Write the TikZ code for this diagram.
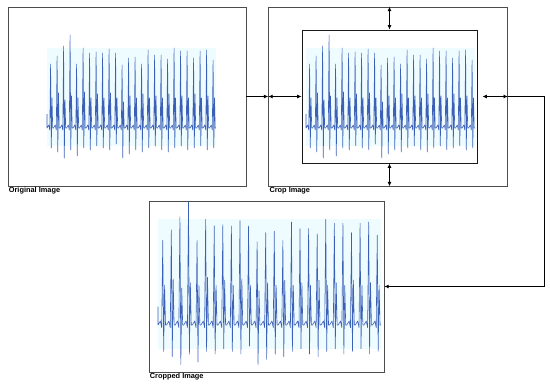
\documentclass[tikz,border=0pt]{standalone}
\usepackage{fontspec}
\setmainfont{Liberation Sans}
\usetikzlibrary{arrows.meta, positioning, calc}
\definecolor{ecgblue}{RGB}{60,96,184}
\definecolor{ecghalo}{RGB}{238,252,255}
\tikzset{
  frame/.style={draw=black!70, rectangle, line width=0.9pt, inner sep=0pt},
  cropwin/.style={draw=black!90, rectangle, line width=1.3pt, inner sep=0pt},
  lbl/.style={font=\bfseries\fontsize{10.5}{12}\selectfont, inner sep=1.5pt, anchor=north west},
  arrow/.style={-{Latex[length=2.2mm,width=2mm]}, line width=1.2pt, draw=black},
  dblarrow/.style={{Latex[length=2.2mm,width=2mm]}-{Latex[length=2.2mm,width=2mm]}, line width=1.2pt, draw=black},
  trace/.style={draw=ecgblue, line width=0.85pt, line join=round}
}
% one ecg strip, baseline at (0,0), 26 beats
\newcommand{\ecgtrace}{%
  \fill[ecghalo] (0,-80) rectangle (169,18);
  \draw[trace] (0,-14) -- (0,0)
    \foreach \h/\d/\s in {64/20/30, 72/24/35, 82/30/28, 93/22/32, 64/28/30, 80/20/36,
      75/22/30, 76/18/34, 75/20/30, 79/22/35, 75/16/30, 63/30/26, 70/26/32, 71/22/30,
      64/24/34, 78/20/30, 73/18/32, 73/22/30, 69/24/34, 80/20/30, 77/18/32, 77/22/30,
      70/20/34, 77/18/30, 78/22/32, 68/20/30} {
      -- ++(1.8,-3) -- ++(1.0,5) -- ++(0.8,-\h-2) -- ++(0.7,\h+\d)
      -- ++(0.7,-\d-\s) -- ++(0.7,\s) -- ++(0.8,0)
    };
}

\begin{document}
\begin{tikzpicture}[x=0.05cm, y=-0.05cm]
\useasboundingbox (0,0) rectangle (550,388);

\node[frame, minimum width=11.9cm, minimum height=8.95cm] (orig) at (127,96.5) {};
\node[frame, minimum width=11.95cm, minimum height=8.95cm, right=1.1cm of orig] (crop) {};
\node[cropwin, minimum width=8.75cm, minimum height=6.65cm] (win) at (389.5,96.5) {};
\node[frame, minimum width=11.75cm, minimum height=8.55cm] (cropped) at (266.5,286.5) {};

\begin{scope}[shift={(47,128)}]
  \ecgtrace
\end{scope}
\begin{scope}[shift={(306,128)}]
  \ecgtrace
\end{scope}
\begin{scope}[shift={(158,325)}, scale=1.32]
  \ecgtrace
\end{scope}

\node[lbl] (origlbl) at (orig.south west) {Original Image};
\node[lbl] (croplbl) at (crop.south west) {Crop Image};
\node[lbl] (croppedlbl) at (cropped.south west) {Cropped Image};

\draw[arrow] (orig) -- (crop);
\draw[dblarrow] (crop.west) -- (win.west);
\draw[dblarrow] (win.north) -- (win.north |- crop.north);
\draw[dblarrow] (win.south) -- (win.south |- crop.south);
\draw[dblarrow, shorten <=0.25cm] (win.east) -- (crop.east);
\draw[arrow] (crop.east) -- ++(36,0) |- (cropped.east);

\end{tikzpicture}
\end{document}
